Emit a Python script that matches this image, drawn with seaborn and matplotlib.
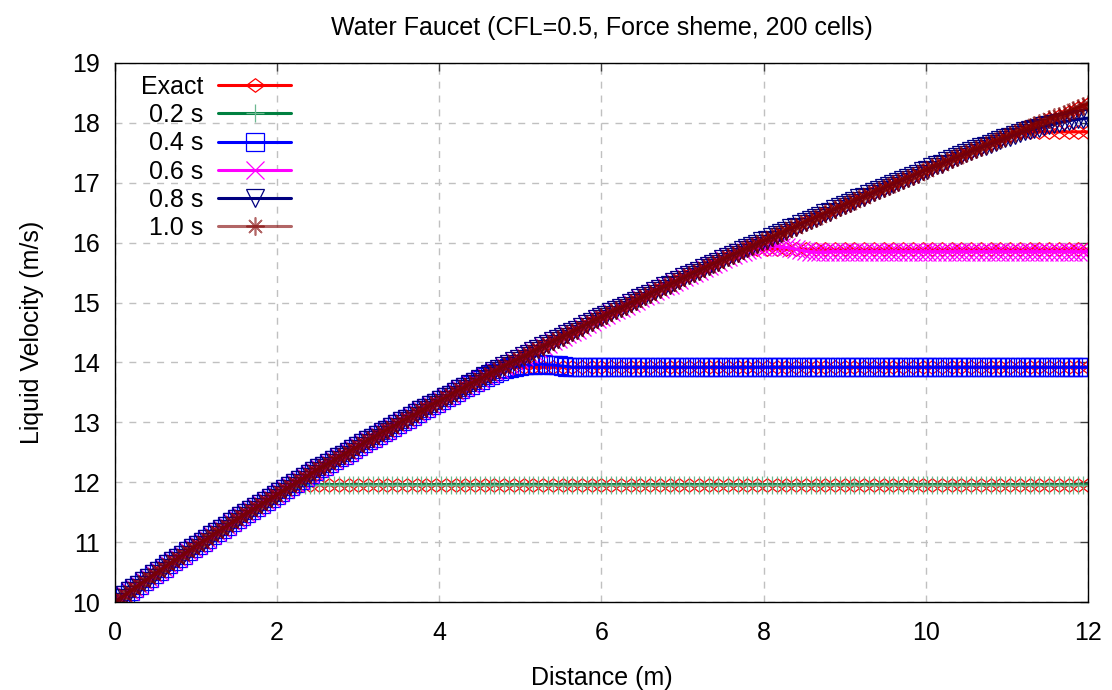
import numpy as np
import pandas as pd
import matplotlib
matplotlib.use("Agg")
import matplotlib.pyplot as plt
from matplotlib.path import Path
import seaborn as sns

# cell positions (m), 200 cells on 12 m
distance = [0.00, 0.06, 0.12, 0.18, 0.24, 0.30, 0.36, 0.42, 0.48, 0.54,
            0.60, 0.66, 0.72, 0.78, 0.84, 0.90, 0.96, 1.02, 1.08, 1.14,
            1.20, 1.26, 1.32, 1.38, 1.44, 1.50, 1.56, 1.62, 1.68, 1.74,
            1.80, 1.86, 1.92, 1.98, 2.04, 2.10, 2.16, 2.22, 2.28, 2.34,
            2.40, 2.46, 2.52, 2.58, 2.64, 2.70, 2.76, 2.82, 2.88, 2.94,
            3.00, 3.06, 3.12, 3.18, 3.24, 3.30, 3.36, 3.42, 3.48, 3.54,
            3.60, 3.66, 3.72, 3.78, 3.84, 3.90, 3.96, 4.02, 4.08, 4.14,
            4.20, 4.26, 4.32, 4.38, 4.44, 4.50, 4.56, 4.62, 4.68, 4.74,
            4.80, 4.86, 4.92, 4.98, 5.04, 5.10, 5.16, 5.22, 5.28, 5.34,
            5.40, 5.46, 5.52, 5.58, 5.64, 5.70, 5.76, 5.82, 5.88, 5.94,
            6.00, 6.06, 6.12, 6.18, 6.24, 6.30, 6.36, 6.42, 6.48, 6.54,
            6.60, 6.66, 6.72, 6.78, 6.84, 6.90, 6.96, 7.02, 7.08, 7.14,
            7.20, 7.26, 7.32, 7.38, 7.44, 7.50, 7.56, 7.62, 7.68, 7.74,
            7.80, 7.86, 7.92, 7.98, 8.04, 8.10, 8.16, 8.22, 8.28, 8.34,
            8.40, 8.46, 8.52, 8.58, 8.64, 8.70, 8.76, 8.82, 8.88, 8.94,
            9.00, 9.06, 9.12, 9.18, 9.24, 9.30, 9.36, 9.42, 9.48, 9.54,
            9.60, 9.66, 9.72, 9.78, 9.84, 9.90, 9.96, 10.02, 10.08, 10.14,
            10.20, 10.26, 10.32, 10.38, 10.44, 10.50, 10.56, 10.62, 10.68, 10.74,
            10.80, 10.86, 10.92, 10.98, 11.04, 11.10, 11.16, 11.22, 11.28, 11.34,
            11.40, 11.46, 11.52, 11.58, 11.64, 11.70, 11.76, 11.82, 11.88, 11.94,
            12.00]

# accelerating part of the falling jet (m/s)
rising = [10.00, 10.06, 10.12, 10.18, 10.23, 10.29, 10.35, 10.40, 10.46, 10.52,
          10.57, 10.63, 10.68, 10.74, 10.79, 10.85, 10.90, 10.96, 11.01, 11.06,
          11.12, 11.17, 11.22, 11.27, 11.33, 11.38, 11.43, 11.48, 11.53, 11.58,
          11.63, 11.68, 11.73, 11.78, 11.83, 11.88, 11.93, 11.98, 12.03, 12.08,
          12.13, 12.18, 12.23, 12.27, 12.32, 12.37, 12.42, 12.46, 12.51, 12.56,
          12.60, 12.65, 12.70, 12.74, 12.79, 12.84, 12.88, 12.93, 12.97, 13.02,
          13.06, 13.11, 13.15, 13.20, 13.24, 13.29, 13.33, 13.37, 13.42, 13.46,
          13.51, 13.55, 13.59, 13.64, 13.68, 13.72, 13.77, 13.81, 13.85, 13.89,
          13.94, 13.98, 14.02, 14.06, 14.10, 14.14, 14.19, 14.23, 14.27, 14.31,
          14.35, 14.39, 14.43, 14.47, 14.51, 14.55, 14.60, 14.64, 14.68, 14.72,
          14.76, 14.80, 14.84, 14.87, 14.91, 14.95, 14.99, 15.03, 15.07, 15.11,
          15.15, 15.19, 15.23, 15.27, 15.30, 15.34, 15.38, 15.42, 15.46, 15.50,
          15.53, 15.57, 15.61, 15.65, 15.68, 15.72, 15.76, 15.80, 15.83, 15.87,
          15.91, 15.94, 15.98, 16.02, 16.05, 16.09, 16.13, 16.16, 16.20, 16.24,
          16.27, 16.31, 16.35, 16.38, 16.42, 16.45, 16.49, 16.52, 16.56, 16.60,
          16.63, 16.67, 16.70, 16.74, 16.77, 16.81, 16.84, 16.88, 16.91, 16.95,
          16.98, 17.02, 17.05, 17.08, 17.12, 17.15, 17.19, 17.22, 17.26, 17.29,
          17.32, 17.36, 17.39, 17.43, 17.46, 17.49, 17.53, 17.56, 17.59, 17.63,
          17.66, 17.69, 17.73, 17.76, 17.79, 17.83, 17.86, 17.89, 17.93, 17.96,
          17.99, 18.02, 18.06, 18.09, 18.12, 18.15, 18.19, 18.22, 18.25, 18.28,
          18.32]

# exact solution is drawn on every second cell
exact_x = distance[::2]
exact_rise = rising[::2]
exact_02 = exact_rise[:19] + [11.96] * 82
exact_04 = exact_rise[:40] + [13.92] * 61
exact_06 = exact_rise[:65] + [15.89] * 36
exact_08 = exact_rise[:93] + [17.85] * 8
exact_10 = exact_rise

# force scheme results
num_02 = rising[:34] + [11.84, 11.88, 11.91, 11.93, 11.95, 11.96] + [11.96] * 161
num_04 = (rising[:72]
          + [13.59, 13.63, 13.67, 13.71, 13.75, 13.79, 13.83, 13.86, 13.89]
          + [13.91, 13.93, 13.94, 13.95, 13.96, 13.96]
          + [13.97, 13.97, 13.96, 13.96, 13.95, 13.94, 13.93]
          + [13.92] * 107)
num_06 = (rising[:125]
          + [15.72, 15.76, 15.79, 15.82, 15.85, 15.88, 15.90, 15.92, 15.93, 15.94,
             15.94, 15.94, 15.93, 15.92, 15.91, 15.89, 15.87, 15.86, 15.85, 15.84,
             15.84, 15.84, 15.85, 15.85]
          + [15.85] * 52)
num_08 = (rising[:177]
          + [17.56, 17.59, 17.62, 17.65, 17.68, 17.71, 17.74, 17.77, 17.80, 17.83,
             17.86, 17.88, 17.90, 17.92, 17.94, 17.96, 17.98, 18.00, 18.02, 18.03,
             18.05, 18.06, 18.07, 18.08])
num_10 = rising

exact_runs = [exact_02, exact_04, exact_06, exact_08, exact_10]
num_labels = ["0.2 s", "0.4 s", "0.6 s", "0.8 s", "1.0 s"]
num_runs = [num_02, num_04, num_06, num_08, num_10]
num_colors = ["#008040", "#0000ff", "#ff00ff", "#000080", "#800000"]
num_edge = ["#6cb890", "#0000ff", "#ff00ff", "#000080", "#800000"]
num_markers = ["+", "s", "x", "v", (8, 2, 0)]
num_mew = [0.9, 0.9, 0.9, 0.9, 1.2]
num_alpha = [1, 1, 1, 1, 0.6]

# wide gnuplot-like diamond
wide_diamond = Path([(-1, 0), (0, 0.75), (1, 0), (0, -0.75), (-1, 0)],
                    [Path.MOVETO, Path.LINETO, Path.LINETO, Path.LINETO, Path.CLOSEPOLY])

sns.set_style("white")
plt.rcParams["font.family"] = ["Liberation Sans", "DejaVu Sans"]
plt.rcParams["text.color"] = "black"
plt.rcParams["axes.labelcolor"] = "black"

fig = plt.figure(figsize=(11.12, 6.9), dpi=100)
ax = fig.add_axes([0.1034, 0.1275, 0.875, 0.7812])

for i, v in enumerate(exact_runs):
    sns.lineplot(x=exact_x, y=v, ax=ax, color="red", lw=2.2, marker=wide_diamond,
                 ms=13, mfc="none", mec="red", mew=0.9, estimator=None,
                 sort=False, label="Exact" if i == 0 else "_nolegend_")

for lab, v, c, ec, m, w, a in zip(num_labels, num_runs, num_colors, num_edge,
                                  num_markers, num_mew, num_alpha):
    sns.lineplot(x=distance, y=v, ax=ax, color=c, lw=2.2, marker=m, ms=13,
                 mfc="none", mec=ec, mew=w, alpha=a, estimator=None,
                 sort=False, label=lab)

ax.set_xlim(0, 12)
ax.set_ylim(10, 19)
ax.set_xticks(range(0, 13, 2))
ax.set_yticks(range(10, 20))
ax.grid(True, color="#c0c0c0", ls=(0, (5, 5)), lw=1)
ax.set_axisbelow(True)
for s in ax.spines.values():
    s.set_color("black")
    s.set_linewidth(1)
ax.tick_params(direction="in", length=6, width=1, color="#404040", labelcolor="black",
               top=True, right=True, labelsize=18)
ax.tick_params(axis="x", pad=14)
ax.tick_params(axis="y", pad=11)

ax.set_xlabel("Distance (m)", fontsize=18, labelpad=14.5)
ax.set_ylabel("Liquid Velocity (m/s)", fontsize=18, labelpad=20)
ax.set_title("Water Faucet (CFL=0.5, Force sheme, 200 cells)", fontsize=18, pad=20.5)

h, l = ax.get_legend_handles_labels()
ax.legend(h, l, loc="upper left", bbox_to_anchor=(0.0267, 0.978), frameon=False,
          markerfirst=False, fontsize=18, handlelength=2.9, handletextpad=0.6,
          labelspacing=0.17, borderpad=0, borderaxespad=0, numpoints=1)

fig.savefig("out.png", dpi=100)
